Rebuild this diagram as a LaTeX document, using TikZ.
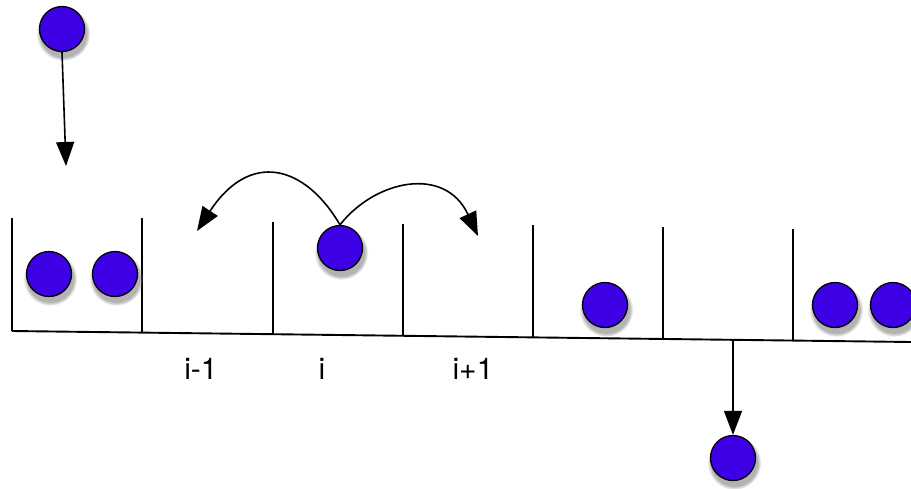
\documentclass[tikz,border=0pt]{standalone}
\usepackage{fontspec}
\newfontfamily\lblfont{TeX Gyre Heros}
\usetikzlibrary{arrows.meta,shadows}
\definecolor{ballblue}{RGB}{62,0,228}
\tikzset{
  ball/.style={circle,draw=black,line width=1.3pt,fill=ballblue,minimum size=45pt,inner sep=0pt,
    circular drop shadow={shadow xshift=1pt,shadow yshift=-4pt,opacity=0.6,shadow scale=1.2}},
  wall/.style={line width=1.5pt,black},
  base/.style={line width=1.9pt,black},
  arr/.style={line width=1.6pt,-{Triangle[length=24pt,width=18pt]}},
  lbl/.style={font=\lblfont\fontsize{30}{34}\selectfont,inner sep=0pt}
}
\begin{document}
\begin{tikzpicture}[x=1pt,y=-1pt]
\useasboundingbox (0,0) rectangle (911,488);
% baseline
\draw[base] (12,331) -- (911,342);
% walls
\draw[wall] (12,218) -- (12,331);
\draw[wall] (142,218) -- (142,332.6);
\draw[wall] (273,222) -- (273,334.2);
\draw[wall] (403,224) -- (403,335.8);
\draw[wall] (533,225) -- (533,337.4);
\draw[wall] (663,227) -- (663,339);
\draw[wall] (793,229) -- (793,340.6);
% balls
\node[ball] (b0) at (62,29) {};
\node[ball] (b1) at (49,274) {};
\node[ball] (b2) at (115,274) {};
\node[ball] (b3) at (340,248) {};
\node[ball] (b4) at (605,305) {};
\node[ball] (b5) at (835,305) {};
\node[ball] (b6) at (893,305) {};
\node[ball] (b7) at (733,458) {};
% arrows
\coordinate (t0) at (66,166);
\draw[arr] (b0.south) -- (t0);
\coordinate (s7) at (733,340);
\draw[arr] (s7) -- (b7.north);
\coordinate (tl) at (197,231);
\coordinate (tr) at (478,236);
\draw[arr] (b3.north) .. controls (305,165) and (250,150) .. (tl);
\draw[arr] (b3.north) .. controls (375,180) and (445,165) .. (tr);
% labels
\node[lbl] (l1) at (201,369) {i-1};
\node[lbl] (l2) at (322,369) {i};
\node[lbl] (l3) at (473,369) {i+1};
\end{tikzpicture}
\end{document}
